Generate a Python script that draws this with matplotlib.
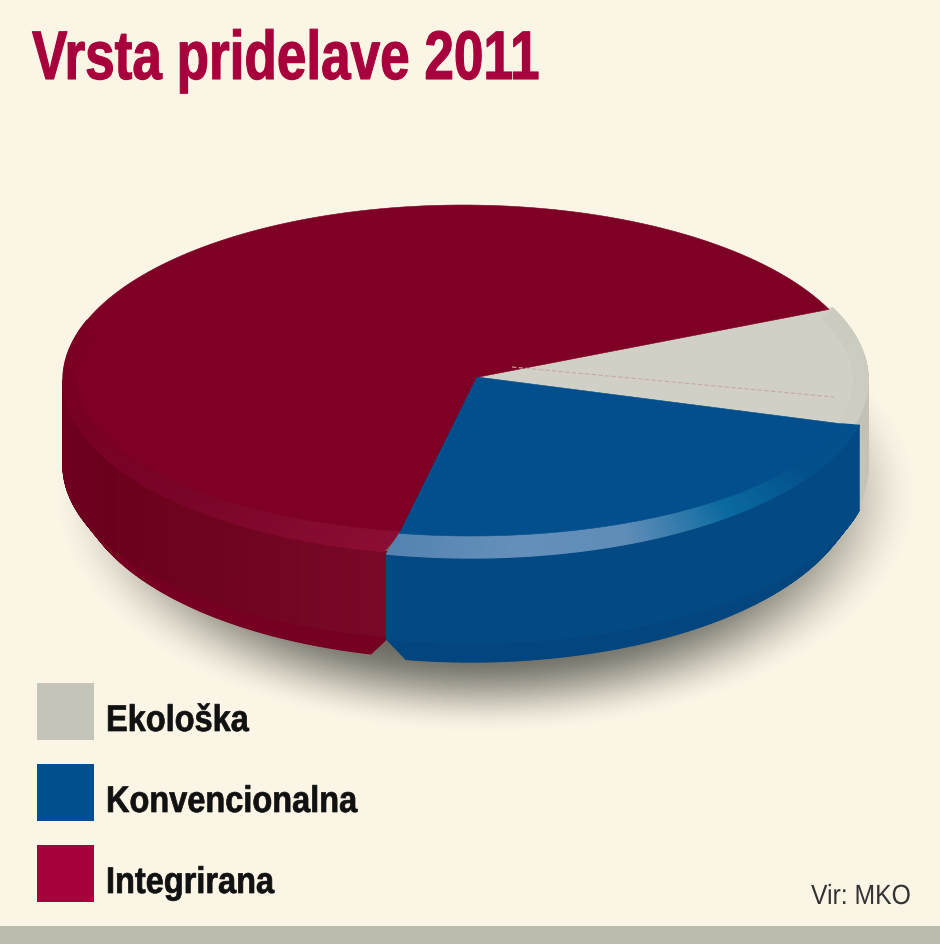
import numpy as np
import matplotlib
matplotlib.use("Agg")
import matplotlib.pyplot as plt
from matplotlib.collections import PolyCollection
from matplotlib.colors import LinearSegmentedColormap
from matplotlib.patches import Rectangle
from matplotlib.patheffects import AbstractPathEffect
from matplotlib.transforms import Affine2D

labels = ["Integrirana", "Konvencionalna", "Ekološka"]
shares = [65.0, 24.5, 10.5]
legend_order = ["Ekološka", "Konvencionalna", "Integrirana"]
title = "Vrsta pridelave 2011"
source = "Vir: MKO"

BG = "#fbf5e6"
legend_col = {"Ekološka": "#c4c4b8", "Konvencionalna": "#03508f", "Integrirana": "#a8003c"}
START = 23.8
A, B = 400, 175        # outer ellipse
IA, IB = 385, 153      # inner ellipse, top of bevel
H = 105
FONT = ["Liberation Sans", "DejaVu Sans"]

# slice look: centre, apex, top colour, bevel colours, side colours
style = {
    "Ekološka": dict(c=(468, 381), apex=(477, 378), top="#d0d0c6",
                     bevel=["#cdcdc2", "#cbcbc0"], side=["#c4c4b8", "#c0c0b4"], low="#b8b8ac"),
    "Integrirana": dict(c=(463, 381), apex=(463, 381), top="#7f0025",
                        bevel=["#7d0024", "#780023", "#7a0528", "#8c0d33"],
                        side=["#720021", "#6b001d", "#6f0420", "#7a0828"], low="#760022"),
    "Konvencionalna": dict(c=(471, 384), apex=(477, 378), top="#034f8d",
                           bevel=["#5484b2", "#648fba", "#5f8db8", "#0a6aa0", "#03508c", "#03508c"],
                           side=["#034a85", "#034a85"], low="#03457f"),
}


class Squeeze(AbstractPathEffect):
    # no narrow face is installed, so press the glyphs together
    def __init__(self, sx, stroke=0.0):
        self.sx = sx
        self.stroke = stroke

    def draw_path(self, renderer, gc, tpath, affine, rgbFace=None):
        gc0 = renderer.new_gc()
        gc0.copy_properties(gc)
        if self.stroke and rgbFace is not None:
            gc0.set_linewidth(self.stroke)
            gc0.set_foreground(rgbFace)
        renderer.draw_path(gc0, tpath, Affine2D().scale(self.sx, 1) + affine, rgbFace)
        gc0.restore()


def arc(cx, cy, a, b, t0, t1, n=160):
    t = np.radians(np.linspace(t0, t1, n))
    # y axis points down, the picture is in pixels
    return np.column_stack([cx + a * np.cos(t), cy - b * np.sin(t)])


def band(ax, up, down, colors):
    cmap = LinearSegmentedColormap.from_list("b", colors)
    quads = [[up[i], up[i + 1], down[i + 1], down[i]] for i in range(len(up) - 1)]
    shade = [cmap(i / max(len(quads) - 1, 1)) for i in range(len(quads))]
    ax.add_collection(PolyCollection(quads, facecolors=shade, edgecolors=shade, linewidths=0.9))


def draw_slice(ax, name, t0, t1):
    s = style[name]
    cx, cy = s["c"]
    side0, side1 = t0, t1
    out0, out1 = t0, t1
    in0, in1 = t0 + 1.5, t1 - 1.5
    low0, low1 = t0 + 2.5, t1 - 1.5
    if name == "Integrirana":
        side0, side1 = 180, t1 + 1.5
        out0, out1 = 160, t1 + 0.8
        in0, in1 = 161.5, t1 + 3
        low0, low1 = 180, t1 - 1.6
    if name == "Ekološka":
        # runs under its neighbours so no gap shows
        side0, side1 = t0 - 5, t1 + 0.6
        out0, out1 = t0 - 5, t1 + 0.6
        in0, in1 = t0 - 5, t1
        low0, low1 = t0 - 5, t1
    # side wall, with a small chamfer at the bottom
    rim_up = arc(cx, cy + H - 20, A, B, side0, side1)
    rim_low = arc(cx, cy + H - 5, A - 14, B + 4, low0, low1)
    band(ax, rim_up, rim_low, [s["low"], s["low"]])
    band(ax, arc(cx, cy, A, B, side0, side1), rim_up, s["side"])
    # bevel ring, its ends run slanted
    top_in = arc(cx, cy, IA, IB, in0, in1)
    top_out = arc(cx, cy, A, B, out0, out1)
    band(ax, top_in, top_out, s["bevel"])
    # top
    if name == "Integrirana":
        # past the slice end, blue is drawn on top of this
        back = arc(cx, cy, A, B, t0, out0, 120)
        pts = np.vstack([[s["apex"]], back, top_in, [(480, 378)]])
    elif name == "Ekološka":
        pts = np.vstack([[s["apex"]], top_in, top_out[-1:]])
    else:
        pts = np.vstack([[s["apex"]], top_in])
    ax.fill(pts[:, 0], pts[:, 1], color=s["top"], lw=0.4)


fig = plt.figure(figsize=(9.4, 9.45), dpi=100, facecolor=BG)
ax = fig.add_axes([0, 0, 1, 1])
ax.axis("off")

# soft shadow under the disc
yy, xx = np.mgrid[0:945, 0:940]
d = np.sqrt(((xx - 485) / 435.0) ** 2 + ((yy - 495) / 240.0) ** 2)
alpha = np.clip((1.0 - d) / 0.35, 0, 1)
alpha = alpha * alpha * (3 - 2 * alpha) * 0.78
shadow = np.zeros((945, 940, 4))
shadow[..., :3] = (0.27, 0.27, 0.24)
shadow[..., 3] = alpha
ax.imshow(shadow, extent=(0, 940, 945, 0), zorder=0, interpolation="bilinear", aspect="auto")
ax.set_xlim(0, 940)
ax.set_ylim(945, 0)

# angles follow the shares, counter clockwise from the red/grey edge
ends = START + np.cumsum(shares) * 3.6
starts = np.r_[START, ends[:-1]]
angle = {n: (a, b) for n, a, b in zip(labels, starts, ends)}

draw_slice(ax, "Ekološka", *angle["Ekološka"])
draw_slice(ax, "Integrirana", *angle["Integrirana"])
draw_slice(ax, "Konvencionalna", *angle["Konvencionalna"])
ax.plot([512, 834], [368, 398], color="#c9aaa0", lw=0.8, ls=(0, (4, 2)))

# title, legend, source
ax.text(32, 80, title, color="#a8003c", fontsize=49.5, fontweight="bold", family=FONT, va="baseline",
        path_effects=[Squeeze(0.772, 0.8)])
for y0, name in zip([684, 765, 846], legend_order):
    ax.add_patch(Rectangle((37, y0), 57, 57, facecolor=legend_col[name], edgecolor="none"))
    ax.text(106, y0 + 48, name, color="#111111", fontsize=26.7, fontweight="bold", family=FONT, va="baseline",
            path_effects=[Squeeze(0.877, 0.5)])
ax.text(811, 905, source, color="#333333", fontsize=20, family=FONT, va="baseline",
        path_effects=[Squeeze(0.89)])
ax.add_patch(Rectangle((0, 927), 940, 18, facecolor="#bcbcae", edgecolor="none"))

fig.savefig("out.png", dpi=100, facecolor=BG)
